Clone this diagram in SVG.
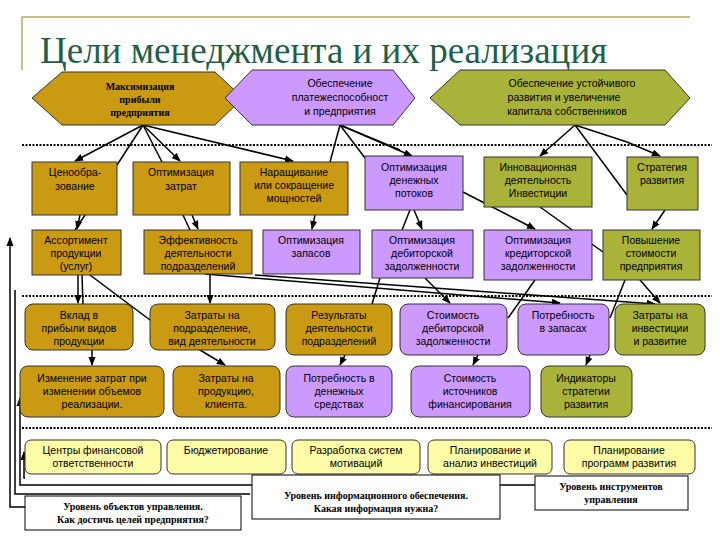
<svg xmlns="http://www.w3.org/2000/svg" width="720" height="540" viewBox="0 0 720 540">
<defs>
<marker id="ar" viewBox="0 0 10 10" refX="9" refY="5" markerWidth="6" markerHeight="6" orient="auto"><path d="M0,1 L10,5 L0,9 z" fill="#000"/></marker>
<style>
.t{font-family:"Liberation Sans",Arial,sans-serif;font-size:10.5px;fill:#000;text-anchor:middle}
.s{font-family:"Liberation Serif","Times New Roman",serif;font-size:10px;font-weight:bold;fill:#000;text-anchor:middle}
.g{fill:#c99a12;stroke:#333;stroke-width:1}
.p{fill:#cc99ff;stroke:#333;stroke-width:1}
.v{fill:#a9b33a;stroke:#333;stroke-width:1}
.y{fill:#fefca6;stroke:#333;stroke-width:1}
.w{fill:#fff;stroke:#000;stroke-width:1}
.d{stroke:#000;stroke-width:2;stroke-dasharray:2,1.5;fill:none}
.c line,.c path{stroke:#000;stroke-width:1.5;fill:none}
.a{marker-end:url(#ar)}
</style>
</defs>
<rect width="720" height="540" fill="#fff"/>
<path d="M22,70 V17 H690" fill="none" stroke="#b5ab6a" stroke-width="1.5"/>
<text x="40" y="63" font-family="Liberation Serif,serif" font-size="37" fill="#1f5f4a">Цели менеджмента и их реализация</text>

<g id="dividers">
<line class="d" x1="22" y1="145" x2="712" y2="145"/>
<line class="d" x1="22" y1="296" x2="712" y2="296"/>
<line class="d" x1="22" y1="428" x2="712" y2="428"/>
</g>

<g class="c" id="connectors">
<line x1="143" y1="125" x2="75" y2="161" class="a"/>
<line x1="143" y1="125" x2="117" y2="165"/>
<line x1="143" y1="125" x2="162" y2="162"/>
<line x1="143" y1="125" x2="180" y2="161" class="a"/>
<line x1="143" y1="125" x2="293" y2="161" class="a"/>
<line x1="340" y1="125" x2="330" y2="162"/>
<line x1="340" y1="125" x2="365" y2="158"/>
<line x1="340" y1="125" x2="412" y2="156" class="a"/>
<line x1="340" y1="125" x2="400" y2="150"/>
<line x1="575" y1="125" x2="540" y2="156" class="a"/>
<line x1="575" y1="125" x2="627" y2="142"/>
<line x1="627" y1="142" x2="660" y2="156" class="a"/>
<line x1="575" y1="125" x2="627" y2="195"/>
<line x1="80" y1="215" x2="77" y2="229" class="a"/>
<line x1="85" y1="215" x2="75" y2="230"/>
<line x1="183" y1="215" x2="190" y2="230"/>
<line x1="192" y1="215" x2="198" y2="229" class="a"/>
<line x1="315" y1="215" x2="312" y2="229" class="a"/>
<line x1="410" y1="210" x2="402" y2="230"/>
<line x1="414" y1="210" x2="422" y2="229" class="a"/>
<line x1="463" y1="192" x2="535" y2="229" class="a"/>
<line x1="540" y1="207" x2="603" y2="252"/>
<line x1="665" y1="210" x2="652" y2="229" class="a"/>
<line x1="78" y1="275" x2="78" y2="303" class="a"/>
<line x1="82" y1="275" x2="83" y2="304"/>
<line x1="90" y1="275" x2="150" y2="320"/>
<line x1="210" y1="274" x2="210" y2="303" class="a"/>
<line x1="205" y1="274" x2="560" y2="303" class="a"/>
<line x1="255" y1="275" x2="655" y2="304" class="a"/>
<line x1="380" y1="278" x2="372" y2="304"/>
<line x1="425" y1="278" x2="450" y2="303" class="a"/>
<line x1="535" y1="280" x2="508" y2="318"/>
<line x1="625" y1="280" x2="610" y2="318"/>
<line x1="640" y1="280" x2="660" y2="303" class="a"/>
<line x1="92" y1="350" x2="92" y2="365" class="a"/>
<line x1="150" y1="320" x2="225" y2="365" class="a"/>
<line x1="345" y1="355" x2="340" y2="365" class="a"/>
<line x1="478" y1="355" x2="473" y2="365" class="a"/>
<line x1="590" y1="355" x2="586" y2="365" class="a"/>
<path d="M25,507 H10 V238" class="a"/>
<path d="M250,494 H15 V290"/>
<path d="M540,485 H20 V398" class="a"/>
<path d="M25,478 H24 V452" class="a"/>
</g>

<g id="hex-profit"><polygon class="g" points="32,98 62,72 215,72 243,98 215,125 62,125"/>
<text class="s" x="140" y="90">Максимизация</text><text class="s" x="140" y="103">прибыли</text><text class="s" x="140" y="116">предприятия</text></g>
<g id="hex-solv"><polygon class="p" points="225,98 252,70 393,70 415,98 393,125 252,125"/>
<text class="t" x="340" y="87">Обеспечение</text><text class="t" x="340" y="101">платежеспособност</text><text class="t" x="340" y="115">и предприятия</text></g>
<g id="hex-dev"><polygon class="v" points="430,98 460,70 665,70 690,98 665,125 460,125"/>
<text class="t" x="572" y="87">Обеспечение устойчивого</text><text class="t" x="564" y="101">развития и увеличение</text><text class="t" x="567" y="115">капитала собственников</text></g>

<g id="r1a"><rect class="g" x="32" y="162" width="85" height="53"/><text class="t" x="75" y="176">Ценообра-</text><text class="t" x="75" y="190">зование</text></g>
<g id="r1b"><rect class="g" x="133" y="162" width="97" height="53"/><text class="t" x="181" y="176">Оптимизация</text><text class="t" x="181" y="190">затрат</text></g>
<g id="r1c"><rect class="g" x="240" y="162" width="108" height="53"/><text class="t" x="294" y="176">Наращивание</text><text class="t" x="294" y="189">или  сокращение</text><text class="t" x="294" y="202">мощностей</text></g>
<g id="r1d"><rect class="p" x="365" y="156" width="98" height="54"/><text class="t" x="414" y="171">Оптимизация</text><text class="t" x="414" y="184">денежных</text><text class="t" x="414" y="197">потоков</text></g>
<g id="r1e"><rect class="v" x="484" y="157" width="108" height="50"/><text class="t" x="538" y="171">Инновационная</text><text class="t" x="538" y="184">деятельность</text><text class="t" x="538" y="197">Инвестиции</text></g>
<g id="r1f"><rect class="v" x="627" y="157" width="71" height="53"/><text class="t" x="662" y="171">Стратегия</text><text class="t" x="662" y="184">развития</text></g>

<g id="r2a"><rect class="g" x="32" y="230" width="89" height="45"/><text class="t" x="76" y="244">Ассортимент</text><text class="t" x="76" y="257">продукции</text><text class="t" x="76" y="270">(услуг)</text></g>
<g id="r2b"><rect class="g" x="144" y="230" width="108" height="44"/><text class="t" x="198" y="244">Эффективность</text><text class="t" x="198" y="257">деятельности</text><text class="t" x="198" y="270">подразделений</text></g>
<g id="r2c"><rect class="p" x="263" y="230" width="97" height="44"/><text class="t" x="311" y="244">Оптимизация</text><text class="t" x="311" y="257">запасов</text></g>
<g id="r2d"><rect class="p" x="372" y="230" width="101" height="48"/><text class="t" x="422" y="244">Оптимизация</text><text class="t" x="422" y="257">дебиторской</text><text class="t" x="422" y="270">задолженности</text></g>
<g id="r2e"><rect class="p" x="484" y="230" width="108" height="50"/><text class="t" x="538" y="244">Оптимизация</text><text class="t" x="538" y="257">кредиторской</text><text class="t" x="538" y="270">задолженности</text></g>
<g id="r2f"><rect class="v" x="603" y="230" width="97" height="50"/><text class="t" x="651" y="244">Повышение</text><text class="t" x="651" y="257">стоимости</text><text class="t" x="651" y="270">предприятия</text></g>

<g id="r3a"><rect class="g" x="25" y="304" width="108" height="46" rx="8"/><text class="t" x="79" y="319">Вклад в</text><text class="t" x="79" y="332">прибыли видов</text><text class="t" x="79" y="345">продукции</text></g>
<g id="r3b"><rect class="g" x="150" y="304" width="125" height="46" rx="8"/><text class="t" x="212" y="319">Затраты на</text><text class="t" x="212" y="332">подразделение,</text><text class="t" x="212" y="345">вид деятельности</text></g>
<g id="r3c"><rect class="g" x="286" y="304" width="106" height="51" rx="8"/><text class="t" x="339" y="319">Результаты</text><text class="t" x="339" y="332">деятельности</text><text class="t" x="339" y="345">подразделений</text></g>
<g id="r3d"><rect class="p" x="400" y="304" width="107" height="51" rx="8"/><text class="t" x="453" y="319">Стоимость</text><text class="t" x="453" y="332">дебиторской</text><text class="t" x="453" y="345">задолженности</text></g>
<g id="r3e"><rect class="p" x="518" y="304" width="91" height="51" rx="8"/><text class="t" x="563" y="319">Потребность</text><text class="t" x="563" y="332">в запасах</text></g>
<g id="r3f"><rect class="v" x="615" y="304" width="90" height="51" rx="8"/><text class="t" x="660" y="319">Затраты на</text><text class="t" x="660" y="332">инвестиции</text><text class="t" x="660" y="345">и развитие</text></g>

<g id="r4a"><rect class="g" x="20" y="366" width="144" height="51" rx="8"/><text class="t" x="92" y="382">Изменение затрат при</text><text class="t" x="92" y="395">изменении объемов</text><text class="t" x="92" y="408">реализации.</text></g>
<g id="r4b"><rect class="g" x="173" y="366" width="107" height="51" rx="8"/><text class="t" x="226" y="382">Затраты на</text><text class="t" x="226" y="395">продукцию,</text><text class="t" x="226" y="408">клиента.</text></g>
<g id="r4c"><rect class="p" x="286" y="366" width="106" height="51" rx="8"/><text class="t" x="339" y="382">Потребность в</text><text class="t" x="339" y="395">денежных</text><text class="t" x="339" y="408">средствах</text></g>
<g id="r4d"><rect class="p" x="411" y="366" width="119" height="51" rx="8"/><text class="t" x="470" y="382">Стоимость</text><text class="t" x="470" y="395">источников</text><text class="t" x="470" y="408">финансирования</text></g>
<g id="r4e"><rect class="v" x="541" y="366" width="91" height="51" rx="8"/><text class="t" x="586" y="382">Индикаторы</text><text class="t" x="586" y="395">стратегии</text><text class="t" x="586" y="408">развития</text></g>

<g id="r5a"><rect class="y" x="25" y="440" width="136" height="34" rx="6"/><text class="t" x="93" y="454">Центры финансовой</text><text class="t" x="93" y="467">ответственности</text></g>
<g id="r5b"><rect class="y" x="167" y="440" width="119" height="34" rx="6"/><text class="t" x="226" y="454">Бюджетирование</text></g>
<g id="r5c"><rect class="y" x="292" y="440" width="128" height="34" rx="6"/><text class="t" x="356" y="454">Разработка систем</text><text class="t" x="356" y="467">мотиваций</text></g>
<g id="r5d"><rect class="y" x="428" y="440" width="124" height="34" rx="6"/><text class="t" x="490" y="454">Планирование  и</text><text class="t" x="490" y="467">анализ инвестиций</text></g>
<g id="r5e"><rect class="y" x="564" y="440" width="131" height="34" rx="6"/><text class="t" x="629" y="454">Планирование</text><text class="t" x="629" y="467">программ развития</text></g>

<g id="lvl-obj"><rect class="w" x="25" y="496" width="216" height="34"/><text class="s" x="133" y="510" font-size="9">Уровень объектов управления.</text><text class="s" x="133" y="523" font-size="9">Как  достичь целей предприятия?</text></g>
<g id="lvl-info"><rect class="w" x="252" y="475" width="248" height="44"/><text class="s" x="376" y="499" font-size="9">Уровень информационного обеспечения.</text><text class="s" x="376" y="512" font-size="9">Какая информация нужна?</text></g>
<g id="lvl-tools"><rect class="w" x="535" y="476" width="153" height="34"/><text class="s" x="611" y="490" font-size="9">Уровень инструментов</text><text class="s" x="611" y="503" font-size="9">управления</text></g>
</svg>
